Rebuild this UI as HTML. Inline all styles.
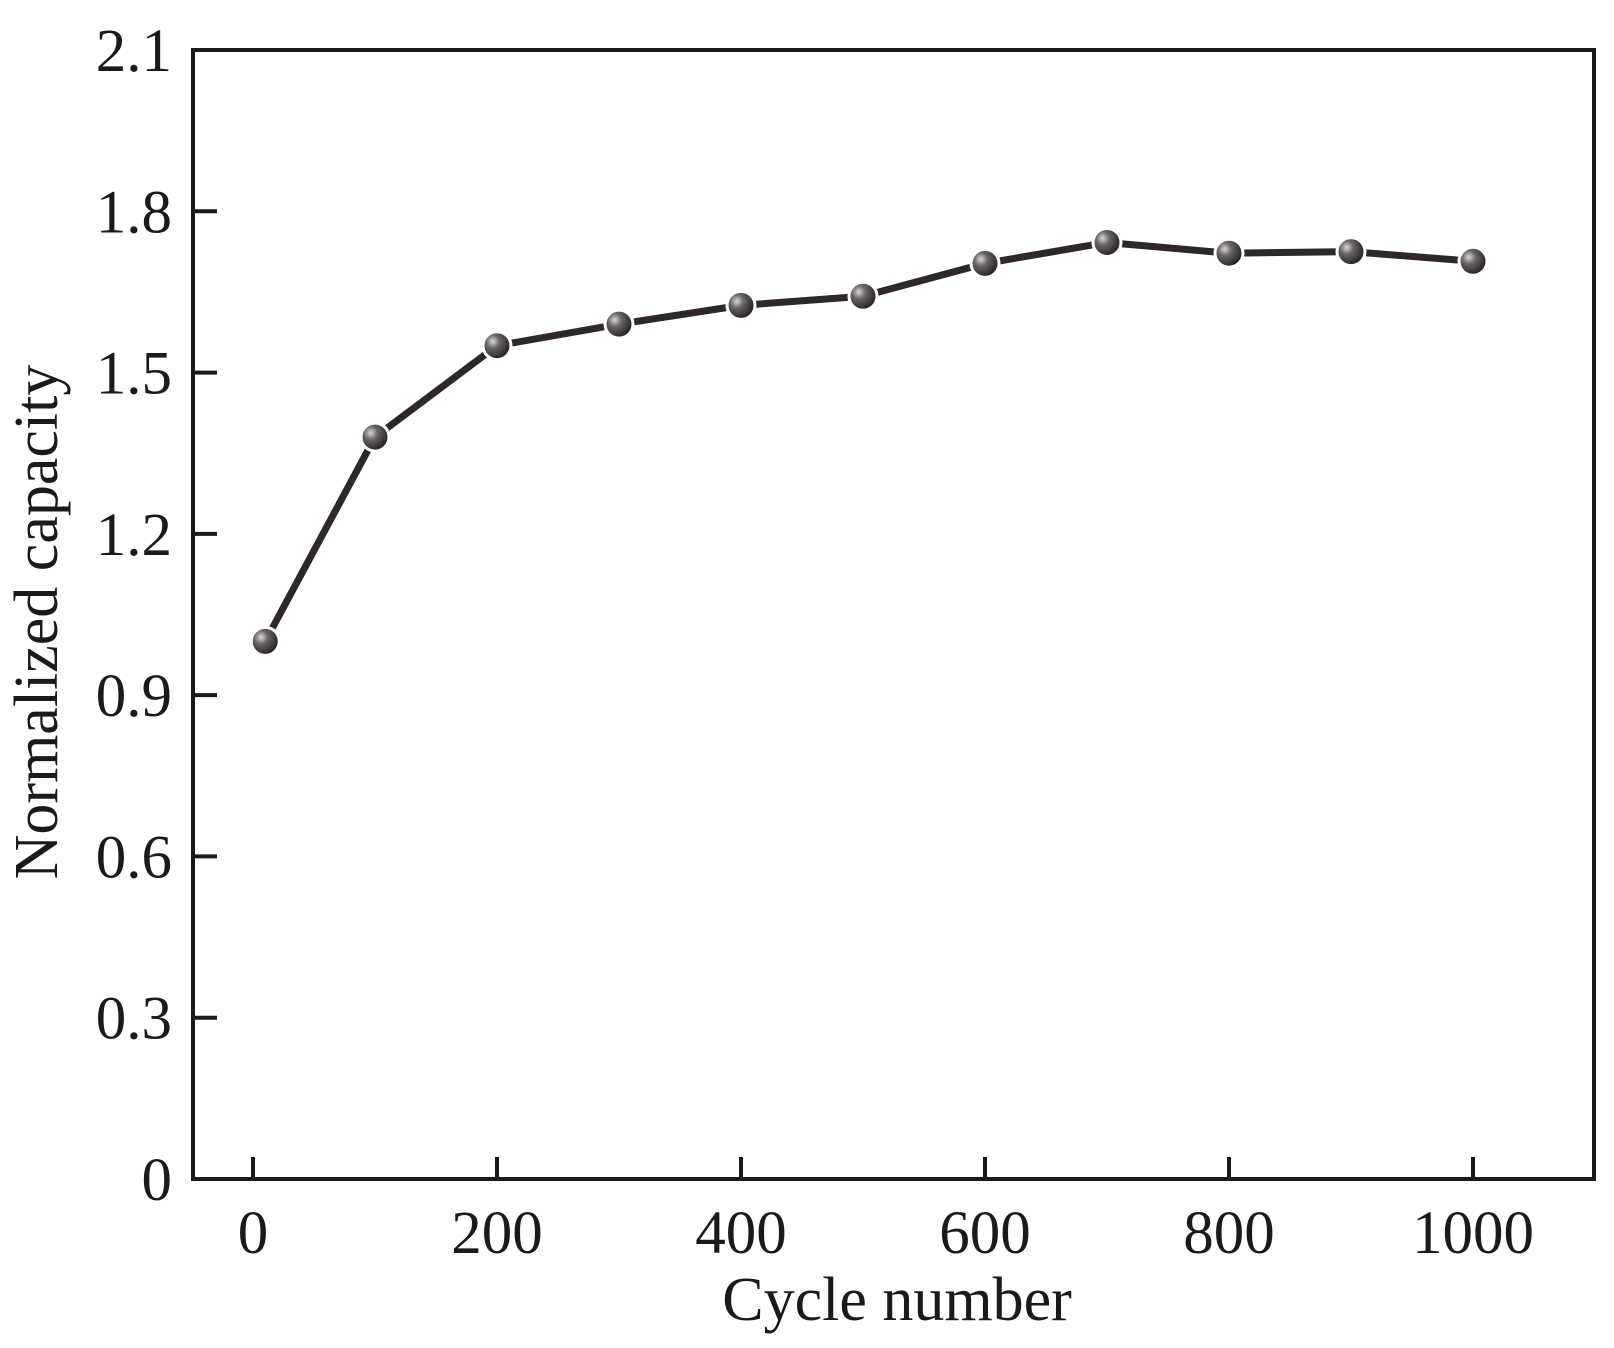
<!DOCTYPE html>
<html><head><meta charset="utf-8"><style>
html,body{margin:0;padding:0;background:#fff;}
svg text{font-family:"Liberation Serif",serif;fill:#1a1a1a;}
</style></head><body>
<svg id="chart" width="1614" height="1343" viewBox="0 0 1614 1343" xmlns="http://www.w3.org/2000/svg">
<defs>
<radialGradient id="ball" cx="0.35" cy="0.35" r="0.7">
<stop offset="0" stop-color="#d8d8d8"/>
<stop offset="0.35" stop-color="#6a6464"/>
<stop offset="1" stop-color="#1e1a1a"/>
</radialGradient>
</defs>
<g id="axes"></g>
<g id="series"></g>
</svg>
<script>
const cycles=[10,100,200,300,400,500,600,700,800,900,1000];
const capacity=[1.0,1.38,1.55,1.59,1.625,1.642,1.703,1.742,1.722,1.725,1.707];
const xTicks=[0,200,400,600,800,1000];
const yTicks=[0,0.3,0.6,0.9,1.2,1.5,1.8,2.1];
const yTickLabels=['0','0.3','0.6','0.9','1.2','1.5','1.8','2.1'];

const L=193,R=1594,T=50,B=1179;
const xs=v=>253+v*1.22;
const ys=v=>B-(v/2.1)*(B-T);
const NS='http://www.w3.org/2000/svg';
function mk(tag,attrs,parent){const e=document.createElementNS(NS,tag);for(const k in attrs)e.setAttribute(k,attrs[k]);parent.appendChild(e);return e;}
const axes=document.getElementById('axes'),series=document.getElementById('series');

const frame=mk('rect',{x:L,y:T,width:R-L,height:B-T,fill:'none',stroke:'#1a1a1a','stroke-width':4},axes);



xTicks.forEach(v=>{
  const t=mk('line',{x1:xs(v),x2:xs(v),y1:B,y2:B-22,stroke:'#1a1a1a','stroke-width':4},axes);
  
  
  const lb=mk('text',{x:xs(v),y:1253,'text-anchor':'middle','font-size':61},axes);
  lb.textContent=String(v);
  
  
});
yTicks.forEach((v,i)=>{
  const t=mk('line',{x1:L,x2:L+24,y1:ys(v),y2:ys(v),stroke:'#1a1a1a','stroke-width':4},axes);
  
  
  const lb=mk('text',{x:172,y:ys(v)+21,'text-anchor':'end','font-size':61},axes);
  lb.textContent=yTickLabels[i];
  
  
});
const xt=mk('text',{x:897,y:1320,'text-anchor':'middle','font-size':62},axes);
xt.textContent='Cycle number';


const yt=mk('text',{x:0,y:0,'text-anchor':'middle','font-size':62,transform:'translate(57,622) rotate(-90)'},axes);
yt.textContent='Normalized capacity';



const pts=cycles.map((c,i)=>xs(c)+','+ys(capacity[i])).join(' ');
const line=mk('polyline',{points:pts,fill:'none',stroke:'#2e2826','stroke-width':7,'stroke-linejoin':'round'},series);


cycles.forEach((c,i)=>{
  const m=mk('circle',{cx:xs(c),cy:ys(capacity[i]),r:14,fill:'url(#ball)',stroke:'#fff','stroke-width':3},series);
  
  
});
</script>
</body></html>
